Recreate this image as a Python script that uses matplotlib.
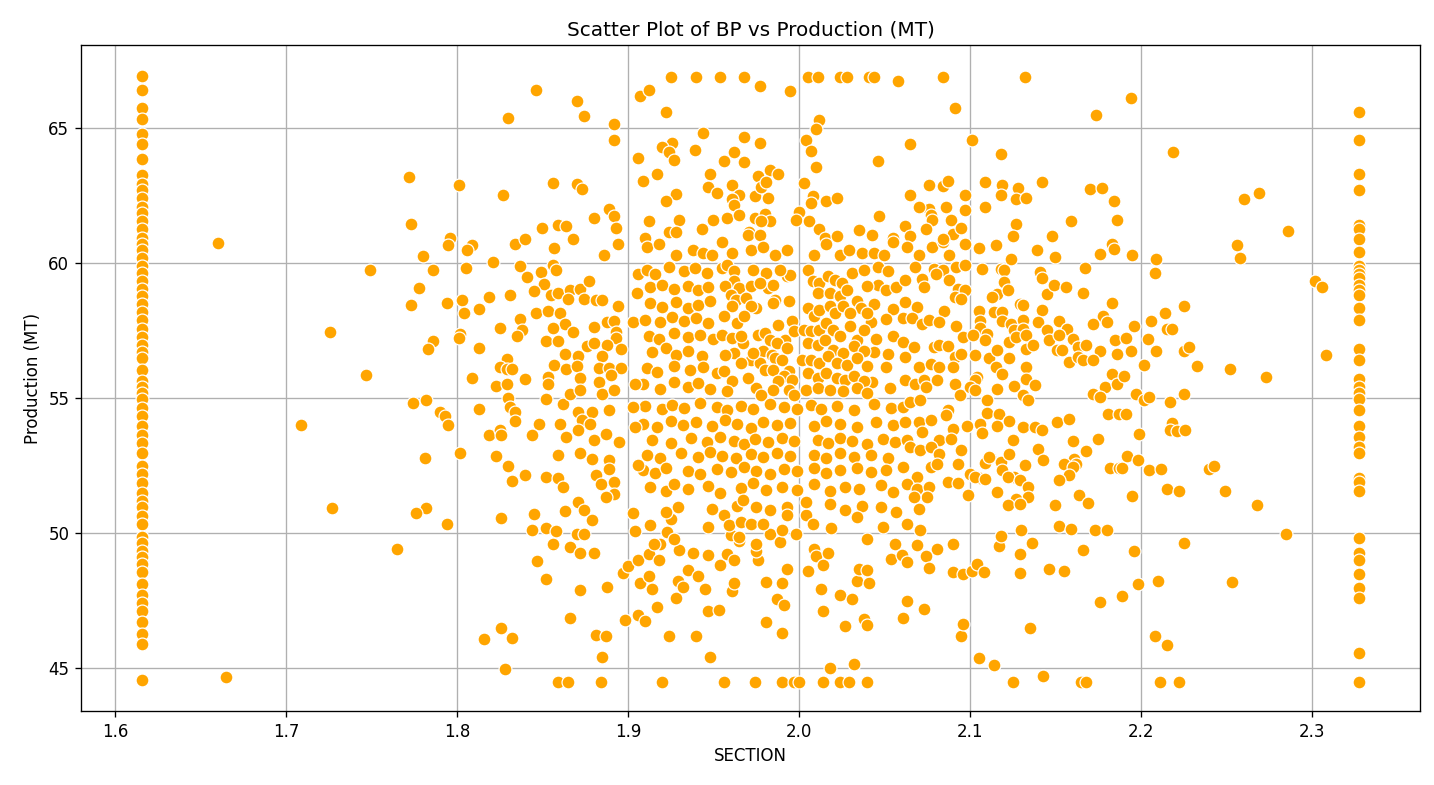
import matplotlib
matplotlib.use("Agg")
import matplotlib.pyplot as plt

# ---- data ----
title = "Scatter Plot of BP vs Production (MT)"
x_label = "SECTION"
y_label = "Production (MT)"
x_ticks = [1.6, 1.7, 1.8, 1.9, 2.0, 2.1, 2.2, 2.3]
y_ticks = [45, 50, 55, 60, 65]

# clipped column at the lower SECTION bound
left_col_x = 1.616
left_col_y = [66.94, 66.4, 65.74, 65.32, 64.78, 64.4, 63.86, 63.25, 62.94, 62.71, 62.4, 62.09,
              61.86, 61.56, 61.25, 60.94, 60.71, 60.48, 60.17, 59.87, 59.63, 59.33, 59.02,
              58.79, 58.48, 58.17, 57.87, 57.56, 57.25, 56.95, 56.71, 56.48, 56.02, 55.64,
              55.41, 55.18, 54.95, 54.64, 54.33, 53.95, 53.64, 53.33, 52.95, 52.49, 52.18,
              51.87, 51.49, 51.18, 50.95, 50.64, 50.33, 49.87, 49.64, 49.34, 49.1, 48.87,
              48.57, 48.1, 47.72, 47.41, 47.1, 46.72, 46.26, 45.88, 44.57]

# clipped column at the upper SECTION bound
right_col_x = 2.3275
right_col_y = [65.6, 64.54, 63.28, 62.7, 61.4, 61.25, 60.9, 60.4, 59.9, 59.75, 59.6, 59.45,
               59.2, 59.0, 58.8, 58.35, 57.9, 56.8, 56.4, 55.7, 55.4, 55.2, 54.95, 54.55,
               53.95, 53.55, 53.2, 52.95, 52.05, 51.9, 51.55, 49.8, 49.25, 49.0, 48.5,
               47.95, 47.6, 45.55, 44.5]

# free points (SECTION, Production)
points = [
    (2.302, 59.35), (2.306, 59.1), (2.308, 56.6),
    # left sparse region
    (1.660, 60.75), (1.772, 63.2), (1.801, 62.9), (1.830, 65.38), (1.827, 62.53), (1.773, 61.46),
    (1.796, 60.93), (1.795, 60.68), (1.809, 60.68), (1.806, 60.47), (1.780, 60.27), (1.821, 60.05),
    (1.834, 60.72), (1.840, 60.88), (1.837, 59.9), (1.841, 59.48), (1.749, 59.75), (1.786, 59.75),
    (1.805, 59.83), (1.778, 59.09), (1.773, 58.46), (1.794, 58.53), (1.803, 58.64), (1.804, 58.14),
    (1.813, 58.31), (1.819, 58.75), (1.831, 58.8), (1.837, 57.94), (1.838, 57.53), (1.835, 57.28),
    (1.825, 57.6), (1.802, 57.38), (1.801, 57.22), (1.786, 57.1), (1.783, 56.83), (1.813, 56.86),
    (1.726, 57.46), (1.747, 55.86), (1.829, 56.43), (1.825, 56.15), (1.829, 56.06), (1.832, 56.06),
    (1.809, 55.75), (1.840, 55.7),
    (1.709, 54.01), (1.774, 54.83), (1.782, 54.94), (1.790, 54.49), (1.793, 54.33), (1.795, 54.01),
    (1.813, 54.6), (1.823, 55.43), (1.829, 55.5), (1.830, 55.0), (1.831, 54.67), (1.834, 54.48),
    (1.834, 54.14), (1.819, 53.62), (1.825, 53.83), (1.826, 53.62), (1.802, 52.98), (1.781, 52.79),
    (1.823, 52.86), (1.830, 52.49), (1.840, 52.16), (1.832, 51.91), (1.727, 50.94), (1.782, 50.94),
    (1.776, 50.75), (1.794, 50.35), (1.826, 50.57), (1.765, 49.42), (1.826, 46.49), (1.816, 46.09),
    (1.832, 46.12), (1.828, 44.98), (1.665, 44.68),
    # upper middle
    (1.846, 66.4), (1.870, 65.99), (1.874, 65.43), (1.892, 65.14), (1.892, 64.57), (1.907, 66.2),
    (1.912, 66.42), (1.925, 66.9), (1.940, 66.9), (1.954, 66.9), (1.968, 66.9), (1.977, 66.57),
    (1.995, 66.38), (1.922, 65.6), (2.005, 66.9), (2.011, 66.9), (2.024, 66.9), (2.028, 66.9),
    (2.041, 66.88), (2.044, 66.9), (2.058, 66.75), (2.012, 65.31), (2.010, 64.97), (2.004, 64.57),
    (2.007, 64.16), (2.046, 63.77), (2.010, 63.57), (2.065, 64.42), (1.944, 64.83), (1.968, 64.65),
    (1.977, 64.43), (1.926, 64.43), (1.920, 64.31), (1.924, 64.11), (1.927, 63.83), (1.939, 64.2),
    (1.962, 64.11), (1.956, 63.79), (1.968, 63.72), (1.906, 63.9), (1.917, 63.31), (1.909, 63.02),
    (1.948, 63.28), (1.947, 62.81), (1.952, 62.58), (1.961, 62.88), (1.965, 62.53), (1.961, 62.35),
    (1.962, 62.16), (1.974, 62.47), (1.982, 62.42), (1.976, 63.21), (1.983, 63.43), (1.988, 63.3),
    (1.978, 62.81), (1.981, 63.0), (1.928, 62.56), (1.922, 62.31), (1.856, 62.95), (1.870, 62.94),
    (1.873, 62.75), (2.003, 62.95), (2.008, 62.48), (2.007, 62.22), (2.016, 62.31), (2.022, 62.42),
    (2.047, 61.75), (2.065, 62.53), (1.889, 62.01), (1.892, 61.74), (1.880, 61.68), (1.893, 61.31),
    (1.894, 60.72), (1.886, 60.31), (1.868, 60.88), (1.850, 61.31), (1.859, 61.4), (1.864, 61.37),
    (1.857, 60.57), (1.912, 61.54), (1.930, 61.6), (1.924, 61.15), (1.928, 61.15), (1.943, 61.27),
    (1.950, 61.6), (1.958, 61.68), (1.965, 61.79), (1.974, 61.68), (1.980, 61.8), (1.983, 61.56),
    (1.978, 61.57), (1.971, 61.15), (1.970, 61.02), (1.977, 61.05), (2.000, 61.89), (1.998, 61.6),
    (2.006, 61.56), (2.012, 61.27), (2.015, 60.94), (2.022, 61.01), (2.035, 61.21), (2.043, 61.05),
    (2.055, 60.93), (2.062, 61.36), (2.065, 61.0), (1.910, 60.91),
    # band 55.6 - 60, left of 1.907
    (1.849, 59.67), (1.856, 59.94), (1.858, 59.75), (1.851, 59.22), (1.845, 58.95),
    (1.855, 58.83), (1.859, 58.9), (1.866, 59.01), (1.872, 59.05), (1.877, 59.35), (1.874, 58.68),
    (1.881, 58.62), (1.885, 58.62), (1.865, 58.67), (1.894, 58.41), (1.846, 58.16), (1.853, 58.21),
    (1.860, 58.16), (1.863, 57.73), (1.856, 57.59), (1.868, 57.46), (1.880, 57.64), (1.888, 57.81),
    (1.892, 57.85), (1.893, 57.46), (1.852, 57.12), (1.859, 57.1), (1.893, 57.22), (1.876, 56.91),
    (1.880, 57.05), (1.888, 56.98), (1.896, 56.8), (1.863, 56.64), (1.871, 56.54), (1.885, 56.54),
    (1.857, 56.21), (1.864, 56.09), (1.870, 56.17), (1.883, 56.11), (1.889, 56.11), (1.896, 56.11),
    (1.853, 55.78), (1.872, 55.74), (1.890, 55.84), (1.906, 59.58), (1.905, 58.89), (1.903, 57.81),
    # core 1.907 - 2.059 (outside the inner block)
    (1.911, 60.59), (1.918, 60.72), (1.928, 60.28), (1.938, 60.47), (1.944, 60.35), (1.949, 60.28),
    (1.955, 60.78), (1.961, 60.35), (1.972, 60.47), (1.979, 60.59), (1.986, 60.28), (1.993, 60.47),
    (2.009, 60.28), (2.016, 60.72), (2.024, 60.28), (2.029, 60.47), (2.037, 60.35), (2.044, 60.35),
    (2.050, 60.28), (2.055, 60.78),
    (1.911, 59.75), (1.916, 59.6), (1.924, 59.85), (1.933, 59.7), (1.939, 59.8), (1.946, 59.62),
    (2.046, 59.85), (2.052, 59.7),
    (1.913, 59.1), (1.920, 59.2), (1.927, 59.02), (1.935, 59.15), (1.941, 58.98), (1.947, 59.12),
    (2.046, 59.18), (2.051, 58.98), (2.057, 59.12),
    (1.913, 58.5), (1.920, 58.38), (1.928, 58.55), (1.935, 58.32), (1.941, 58.45), (1.948, 58.6),
    (2.044, 58.47), (2.055, 58.3),
    (1.910, 57.9), (1.919, 57.8), (1.926, 58.0), (1.933, 57.85), (1.940, 57.95), (1.947, 57.76),
    (2.042, 57.82), (2.051, 57.92),
    (1.912, 57.3), (1.918, 57.18), (1.927, 57.4), (1.935, 57.25), (1.942, 57.35), (1.950, 57.2),
    (2.045, 57.2), (2.055, 57.3),
    (1.914, 56.7), (1.922, 56.85), (1.928, 56.6), (1.935, 56.75), (1.943, 56.55),
    (2.044, 56.72), (2.052, 56.62),
    (1.911, 56.1), (1.917, 55.95), (1.927, 56.2), (1.936, 56.05), (1.944, 56.15), (1.952, 55.92),
    (2.051, 56.15),
    (1.909, 55.5), (1.919, 55.35), (1.927, 55.6), (1.935, 55.42), (1.941, 55.55), (1.948, 55.32),
    (2.043, 55.6), (2.053, 55.38),
    # inner block 1.954 - 2.042, 55 - 60
    (1.955, 59.81), (1.958, 59.94), (1.962, 59.69), (1.962, 59.32), (1.957, 59.14), (1.965, 59.07),
    (1.972, 59.14), (1.981, 59.63), (1.982, 59.07), (1.985, 59.2), (1.993, 59.51), (1.995, 59.57),
    (1.986, 58.64), (1.985, 58.52), (1.994, 58.58), (1.960, 58.83), (1.963, 58.64), (1.969, 58.7),
    (1.975, 58.33), (1.972, 58.4), (1.961, 58.4), (1.964, 57.78), (1.968, 58.02), (1.955, 57.35),
    (1.961, 57.22), (1.967, 57.04), (1.962, 56.67), (1.957, 56.6), (1.972, 56.42), (1.966, 56.3),
    (1.956, 55.99), (1.961, 55.62), (1.958, 55.25), (1.976, 57.35), (1.980, 57.41), (1.988, 57.72),
    (1.996, 57.84), (1.992, 57.16), (1.997, 57.47), (1.983, 57.16), (1.987, 57.04), (1.979, 56.73),
    (1.984, 56.6), (1.986, 56.48), (1.990, 56.42), (1.993, 56.85), (1.977, 56.3), (1.980, 56.05),
    (1.985, 56.05), (1.994, 55.99), (1.991, 55.8), (1.988, 55.62), (1.996, 55.68), (1.975, 55.37),
    (1.985, 55.31), (1.994, 55.31), (1.978, 55.12), (1.997, 55.12), (1.970, 55.74), (1.973, 56.67),
    (1.966, 57.28), (1.956, 58.02), (1.973, 59.75), (1.977, 59.26), (1.989, 59.75),
    (2.005, 59.75), (2.008, 59.32), (2.012, 59.26), (2.017, 59.51), (2.021, 59.38), (2.025, 59.26),
    (2.031, 59.63), (2.038, 59.75), (2.040, 59.14), (2.011, 58.89), (2.018, 58.89), (2.024, 58.77),
    (2.028, 59.01), (2.034, 58.58), (2.036, 58.33), (2.040, 58.15), (2.005, 58.33), (2.009, 58.02),
    (2.012, 58.27), (2.018, 58.4), (2.021, 58.15), (2.026, 58.4), (2.030, 58.15), (2.003, 57.53),
    (2.007, 57.47), (2.012, 57.53), (2.016, 57.78), (2.020, 57.53), (2.024, 57.28), (2.030, 57.65),
    (2.034, 57.16), (2.038, 57.53), (2.005, 57.04), (2.011, 56.98), (2.015, 57.16), (2.020, 56.79),
    (2.026, 56.67), (2.032, 56.91), (2.038, 56.73), (2.002, 56.42), (2.007, 56.42), (2.012, 56.3),
    (2.017, 56.54), (2.022, 56.3), (2.028, 56.23), (2.034, 56.48), (2.040, 56.17), (2.005, 55.93),
    (2.011, 55.74), (2.016, 55.93), (2.022, 55.74), (2.027, 55.68), (2.032, 55.8), (2.038, 55.62),
    (2.004, 55.31), (2.011, 55.37), (2.018, 55.31), (2.026, 55.25), (2.034, 55.37), (2.040, 55.19),
    # core 1.907 - 2.059, 51.5 - 55
    (1.910, 54.7), (1.920, 54.58), (1.926, 54.75), (1.933, 54.62), (1.942, 54.8), (1.952, 54.66),
    (1.958, 54.55), (1.966, 54.72), (1.973, 54.6), (1.983, 54.78), (1.991, 54.65), (1.999, 54.58),
    (2.007, 54.74), (2.013, 54.6), (2.022, 54.7), (2.032, 54.56), (2.044, 54.76), (2.054, 54.64),
    (1.909, 54.05), (1.917, 53.92), (1.925, 54.15), (1.932, 54.0), (1.940, 54.1), (1.949, 53.95),
    (1.957, 54.18), (1.964, 54.02), (1.972, 53.9), (1.979, 54.12), (1.987, 54.0), (1.995, 54.08),
    (2.009, 53.95), (2.016, 54.15), (2.024, 54.02), (2.034, 53.92), (2.045, 54.1), (2.055, 54.0),
    (1.914, 53.45), (1.925, 53.32), (1.937, 53.5), (1.946, 53.38), (1.954, 53.55), (1.962, 53.42),
    (1.968, 53.3), (1.974, 53.48), (1.982, 53.36), (1.990, 53.52), (1.997, 53.4), (2.011, 53.46),
    (2.017, 53.34), (2.024, 53.5), (2.031, 53.4), (2.040, 53.3), (2.049, 53.48), (2.056, 53.38),
    (1.911, 52.9), (1.919, 52.78), (1.931, 52.95), (1.941, 52.82), (1.948, 53.0), (1.955, 52.86),
    (1.963, 52.76), (1.972, 52.92), (1.979, 52.8), (1.987, 52.98), (1.995, 52.84), (2.009, 52.9),
    (2.016, 52.76), (2.024, 52.95), (2.032, 52.82), (2.042, 52.9), (2.052, 52.78),
    (1.909, 52.35), (1.916, 52.22), (1.922, 52.42), (1.935, 52.3), (1.942, 52.2), (1.952, 52.38),
    (1.960, 52.26), (1.968, 52.44), (1.975, 52.3), (1.983, 52.2), (1.991, 52.36), (1.999, 52.28),
    (2.009, 52.4), (2.016, 52.24), (2.024, 52.34), (2.034, 52.42), (2.042, 52.26), (2.051, 52.32),
    (1.913, 51.7), (1.922, 51.55), (1.927, 51.82), (1.935, 51.62), (1.947, 51.75), (1.954, 51.5),
    (1.966, 51.68), (1.973, 51.85), (1.981, 51.58), (1.990, 51.72), (1.999, 51.6), (2.009, 51.8),
    (2.018, 51.55), (2.027, 51.7), (2.035, 51.62), (2.048, 51.78), (2.055, 51.52),
    # core 2.059 - 2.188
    (2.063, 60.59), (2.070, 60.28), (2.078, 60.59), (2.084, 60.78), (2.088, 60.28), (2.097, 60.72),
    (2.105, 60.57), (2.115, 60.65), (2.124, 60.16), (2.139, 60.49), (2.150, 60.22), (2.176, 60.32),
    (2.183, 60.72), (2.184, 60.53),
    (2.068, 59.85), (2.079, 59.79), (2.084, 59.73), (2.092, 59.85), (2.097, 59.91), (2.107, 59.79),
    (2.118, 59.79), (2.120, 59.73), (2.141, 59.67), (2.142, 59.46), (2.167, 59.83),
    (2.062, 59.36), (2.072, 59.42), (2.073, 59.11), (2.080, 59.6), (2.088, 59.36), (2.093, 59.05),
    (2.091, 58.74), (2.097, 58.99), (2.095, 58.68), (2.116, 58.86), (2.120, 59.3), (2.122, 58.99),
    (2.145, 58.86), (2.149, 59.17), (2.156, 59.11), (2.166, 58.9),
    (2.062, 58.56), (2.069, 58.37), (2.085, 58.21), (2.105, 58.21), (2.113, 58.74), (2.114, 58.19),
    (2.119, 58.19), (2.129, 58.49), (2.131, 58.43), (2.142, 58.27), (2.183, 58.52), (2.178, 58.02),
    (2.061, 57.98), (2.066, 57.98), (2.072, 57.75), (2.076, 57.9), (2.082, 57.81), (2.092, 57.65),
    (2.106, 57.85), (2.106, 57.6), (2.110, 57.38), (2.119, 57.85), (2.124, 57.75), (2.126, 57.51),
    (2.131, 57.9), (2.131, 57.57), (2.140, 57.81), (2.145, 57.51), (2.152, 57.85), (2.157, 57.57),
    (2.172, 57.73), (2.180, 57.81),
    (2.061, 57.07), (2.067, 56.89), (2.079, 56.89), (2.082, 56.95), (2.087, 56.93), (2.096, 57.26),
    (2.102, 57.32), (2.109, 57.14), (2.116, 56.79), (2.123, 57.07), (2.127, 57.26), (2.133, 57.32),
    (2.133, 56.83), (2.137, 56.95), (2.146, 57.14), (2.152, 57.32), (2.160, 57.2), (2.163, 56.89),
    (2.168, 56.95), (2.176, 56.74), (2.185, 57.14), (2.186, 56.64),
    (2.062, 56.52), (2.070, 56.15), (2.077, 56.27), (2.082, 56.15), (2.091, 56.52), (2.095, 56.62),
    (2.090, 56.15), (2.103, 56.58), (2.111, 56.49), (2.116, 56.77), (2.123, 56.49), (2.151, 56.77),
    (2.154, 56.77), (2.158, 56.33), (2.163, 56.52), (2.166, 56.42), (2.172, 56.42),
    (2.062, 55.65), (2.068, 55.53), (2.073, 55.65), (2.081, 55.68), (2.091, 55.53), (2.104, 55.78),
    (2.103, 55.65), (2.115, 56.15), (2.119, 55.88), (2.126, 55.44), (2.133, 56.15), (2.133, 55.72),
    (2.138, 55.47), (2.183, 55.9), (2.179, 55.41), (2.186, 55.51),
    (2.074, 55.41), (2.094, 55.1), (2.100, 55.41), (2.103, 55.28), (2.116, 55.35), (2.131, 55.1),
    (2.134, 54.91), (2.172, 55.16), (2.176, 55.04),
    (2.061, 54.67), (2.065, 54.85), (2.071, 54.91), (2.087, 54.54), (2.110, 54.91), (2.110, 54.44),
    (2.117, 54.42), (2.123, 54.15), (2.131, 53.93), (2.138, 53.93), (2.142, 53.8), (2.151, 54.11),
    (2.158, 54.23), (2.181, 54.42), (2.187, 54.42),
    (2.062, 54.11), (2.070, 54.11), (2.077, 54.17), (2.086, 54.36), (2.090, 53.86), (2.098, 53.95),
    (2.106, 54.05), (2.107, 53.7), (2.116, 53.95), (2.072, 53.74), (2.063, 53.43), (2.082, 53.46),
    (2.089, 53.47), (2.125, 53.43), (2.160, 53.4), (2.175, 53.47),
    (2.065, 53.19), (2.071, 53.06), (2.077, 53.19), (2.082, 52.94), (2.095, 53.06), (2.112, 52.81),
    (2.118, 52.63), (2.123, 52.91), (2.140, 53.12), (2.143, 52.69), (2.168, 53.04), (2.161, 52.75),
    (2.061, 52.44), (2.069, 52.07), (2.077, 52.44), (2.081, 52.57), (2.093, 52.57), (2.100, 52.2),
    (2.106, 52.05), (2.109, 52.59), (2.111, 52.81), (2.119, 52.32), (2.126, 52.07), (2.132, 52.51),
    (2.155, 52.57), (2.162, 52.57), (2.160, 52.44), (2.158, 52.14), (2.182, 52.41), (2.187, 52.41),
    (2.063, 51.83), (2.069, 51.64), (2.076, 51.7), (2.087, 51.89), (2.093, 51.85), (2.103, 52.07),
    (2.109, 51.99), (2.116, 51.52), (2.122, 52.07), (2.129, 51.95), (2.134, 51.7), (2.152, 51.95),
    (2.164, 51.4), (2.134, 51.33), (2.127, 51.27), (2.099, 51.4), (2.075, 51.33), (2.067, 51.33),
    # lower middle
    (1.859, 44.5), (1.865, 44.5), (1.884, 44.5), (1.920, 44.5), (1.956, 44.5), (1.974, 44.5),
    (1.990, 44.5), (1.997, 44.5), (2.000, 44.5), (2.014, 44.5), (2.024, 44.5), (2.029, 44.5),
    (2.040, 44.5), (2.018, 45.0), (2.032, 45.16), (1.885, 45.42), (1.948, 45.42), (1.881, 46.23),
    (1.887, 46.17), (1.866, 46.86), (1.898, 46.79), (1.906, 46.95), (1.910, 46.73), (1.924, 46.17),
    (1.940, 46.2), (1.981, 46.69), (1.990, 46.31), (2.014, 47.1), (2.027, 46.57), (2.038, 46.81),
    (2.040, 46.6), (2.061, 46.84), (2.063, 47.49), (1.872, 47.9), (1.888, 48.01), (1.852, 48.31),
    (1.847, 48.98), (1.856, 49.58), (1.866, 49.48), (1.872, 49.25), (1.880, 49.27), (1.897, 48.53),
    (1.900, 48.77), (1.907, 48.15), (1.912, 48.4), (1.914, 47.94), (1.917, 47.27), (1.928, 47.59),
    (1.929, 48.21), (1.932, 48.0), (1.935, 48.64), (1.941, 48.4), (1.945, 47.94), (1.947, 47.11),
    (1.953, 47.14), (1.961, 47.85), (1.962, 48.16), (1.981, 48.2), (1.987, 47.57), (1.991, 47.35),
    (1.990, 48.14), (1.993, 48.68), (2.005, 48.58), (2.013, 47.94), (2.024, 47.69), (2.031, 47.54),
    (2.034, 48.22), (2.041, 48.15), (2.035, 48.68), (2.040, 48.64), (2.009, 49.42), (2.010, 49.14),
    (2.014, 48.8), (2.017, 49.26), (2.054, 49.05), (2.056, 49.6), (2.060, 49.17), (2.063, 48.93),
    (2.040, 49.77), (1.906, 49.01), (1.912, 49.23), (1.918, 48.99), (1.919, 49.6), (1.915, 49.6),
    (1.930, 49.36), (1.938, 49.27), (1.947, 49.17), (1.954, 48.8), (1.958, 49.23), (1.962, 49.01),
    (1.976, 49.01), (1.975, 49.33), (1.975, 49.6), (1.965, 49.7), (1.960, 49.91), (1.983, 49.98),
    (1.989, 49.67), (1.998, 49.95), (2.019, 50.19), (2.049, 50.22),
    # band 50 - 55.6, left of 1.907
    (1.853, 55.5), (1.852, 54.97), (1.848, 54.04), (1.844, 53.62), (1.860, 54.05), (1.862, 54.77),
    (1.871, 54.48), (1.866, 55.16), (1.872, 55.28), (1.883, 55.59), (1.879, 54.48), (1.873, 54.2),
    (1.878, 54.05), (1.885, 55.16), (1.892, 55.31), (1.889, 54.54), (1.864, 53.56), (1.871, 53.8),
    (1.887, 53.68), (1.895, 53.37), (1.880, 53.43), (1.859, 52.88), (1.872, 52.96), (1.879, 52.75),
    (1.889, 52.69), (1.889, 52.38), (1.852, 52.07), (1.859, 52.04), (1.862, 51.7), (1.881, 52.14),
    (1.884, 51.83), (1.892, 51.89), (1.892, 51.46), (1.887, 51.33), (1.871, 51.15), (1.874, 50.84),
    (1.863, 50.8), (1.879, 50.49), (1.845, 50.72), (1.844, 50.12), (1.852, 50.2), (1.858, 50.07),
    (1.870, 49.95), (1.874, 49.98), (1.904, 55.53), (1.903, 54.67), (1.904, 53.93), (1.906, 52.53),
    (1.903, 50.75), (1.904, 50.07),
    # band 49.8 - 51.2, 1.907 - 2.065
    (1.975, 50.96), (1.983, 50.84), (1.993, 50.96), (1.964, 50.99), (1.949, 50.9), (1.929, 50.96),
    (1.925, 50.53), (1.922, 50.78), (1.913, 50.28), (1.923, 50.04), (1.927, 49.79), (1.947, 50.22),
    (1.956, 50.65), (1.959, 50.28), (1.966, 50.41), (1.972, 50.35), (1.979, 50.35), (1.993, 50.65),
    (1.965, 49.85), (1.990, 50.1), (1.967, 51.21), (2.018, 51.09), (2.027, 50.84), (2.037, 50.99),
    (2.048, 50.96), (2.057, 50.78), (2.063, 50.35), (2.004, 50.65), (2.008, 50.35), (2.034, 50.59),
    (2.004, 51.15),
    # upper right
    (2.084, 66.9), (2.132, 66.9), (2.091, 65.72), (2.174, 65.46), (2.194, 66.09), (2.101, 64.57),
    (2.118, 64.05), (2.219, 64.11), (2.076, 62.88), (2.084, 62.85), (2.087, 63.04), (2.097, 62.53),
    (2.097, 61.95), (2.109, 63.0), (2.109, 62.07), (2.119, 62.88), (2.118, 62.53), (2.128, 62.79),
    (2.127, 62.36), (2.133, 62.42), (2.142, 62.98), (2.170, 62.72), (2.177, 62.79), (2.184, 62.28),
    (2.186, 61.58), (2.159, 61.54), (2.148, 60.98), (2.127, 61.44), (2.125, 61.01), (2.195, 60.31),
    (2.260, 62.35), (2.269, 62.58), (2.286, 61.17), (2.256, 60.65), (2.258, 60.19), (2.209, 60.15),
    (2.208, 59.64), (2.086, 62.09), (2.076, 61.99), (2.077, 61.77), (2.089, 61.6), (2.090, 61.07),
    (2.095, 61.31), (2.084, 60.88), (2.078, 61.58), (2.074, 61.27), (2.070, 62.07),
    # right of the core
    (2.196, 57.67), (2.202, 56.21), (2.204, 57.2), (2.206, 57.85), (2.209, 56.75), (2.214, 58.16),
    (2.215, 57.57), (2.218, 57.57), (2.225, 58.42), (2.225, 56.73), (2.228, 56.88), (2.233, 56.17),
    (2.252, 56.09), (2.273, 55.78), (2.194, 56.75), (2.191, 57.22), (2.190, 55.81),
    (2.191, 54.42), (2.197, 55.14), (2.202, 54.91), (2.205, 55.04), (2.217, 54.86), (2.225, 55.14),
    (2.199, 53.68), (2.218, 54.07), (2.217, 53.83), (2.221, 53.77), (2.226, 53.8), (2.189, 52.42),
    (2.192, 52.84), (2.198, 52.69), (2.205, 52.35), (2.212, 52.38), (2.195, 51.38), (2.215, 51.64),
    (2.222, 51.54), (2.240, 52.38), (2.243, 52.49), (2.249, 51.54), (2.268, 51.02),
    # lower right
    (2.125, 44.5), (2.143, 44.69), (2.165, 44.5), (2.168, 44.5), (2.211, 44.5), (2.222, 44.5),
    (2.105, 45.38), (2.114, 45.1), (2.095, 46.17), (2.096, 46.64), (2.135, 46.49), (2.208, 46.2),
    (2.215, 45.86), (2.073, 47.2), (2.176, 47.46), (2.189, 47.68), (2.198, 48.1), (2.210, 48.23),
    (2.253, 48.2), (2.196, 49.32), (2.225, 49.64), (2.285, 49.98), (2.090, 48.57), (2.096, 48.47),
    (2.101, 48.59), (2.104, 48.84), (2.108, 48.57), (2.129, 48.53), (2.146, 48.68), (2.155, 48.6),
    (2.129, 49.21), (2.136, 49.64), (2.117, 49.51), (2.118, 49.88), (2.130, 50.12), (2.152, 50.25),
    (2.159, 50.16), (2.173, 50.12), (2.180, 50.12), (2.166, 49.38), (2.090, 49.6), (2.081, 49.42),
    (2.074, 49.14), (2.076, 48.72), (2.069, 49.54), (2.071, 50.12), (2.070, 50.9),
    (2.122, 51.02), (2.129, 51.09), (2.150, 51.05), (2.169, 51.12),
]

section = [left_col_x] * len(left_col_y) + [right_col_x] * len(right_col_y) + [p[0] for p in points]
production = list(left_col_y) + list(right_col_y) + [p[1] for p in points]

# ---- figure ----
fig = plt.figure(figsize=(1434 / 120, 785 / 120), dpi=120)
ax = fig.add_axes([81 / 1434, 1 - 711 / 785, (1420 - 81) / 1434, (711 - 45) / 785])
ax.set_axisbelow(True)
ax.grid(True, color="#b0b0b0", linewidth=0.8)
ax.scatter(section, production, s=60, c="orange", edgecolors="white", linewidths=0.75)
ax.set_xlim(1.5801, 2.3632)
ax.set_ylim(43.41, 68.07)
ax.set_xticks(x_ticks)
ax.set_yticks(y_ticks)
ax.set_title(title, fontsize=12)
ax.set_xlabel(x_label)
ax.set_ylabel(y_label)
fig.savefig("out.png", dpi=120)
